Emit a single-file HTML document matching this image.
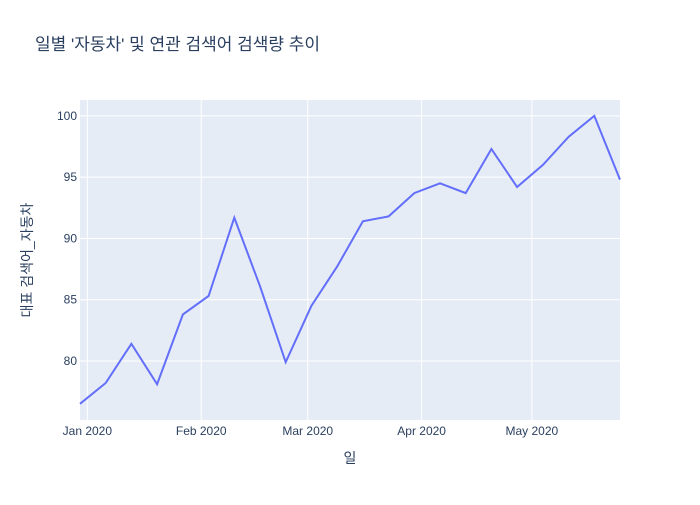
<!DOCTYPE html>
<html><head><meta charset="utf-8"><style>
body{margin:0;background:#fff;}
text{font-family:"Liberation Sans","Noto Sans CJK KR",sans-serif;fill:#2a3f5f;}
</style></head><body>
<svg width="700" height="500">
<rect x="0" y="0" width="700" height="500" fill="#fff"/>
<rect x="80" y="100" width="540" height="320" fill="#e5ecf6"/>
<g id="grid"></g>
<path id="line" fill="none" stroke="#636efa" stroke-width="2"/>
<g id="ticks"></g>
<text x="35" y="50" font-size="17">일별 '자동차' 및 연관 검색어 검색량 추이</text>
<text x="350" y="463" font-size="14" text-anchor="middle">일</text>
<text transform="translate(32,260) rotate(-90)" font-size="14" text-anchor="middle">대표 검색어_자동차</text>
</svg>
<script>
const startDate = "2019-12-30";
const values = [76.5,78.2,81.4,78.1,83.8,85.3,91.7,86.1,79.9,84.5,87.7,91.4,91.8,93.7,94.5,93.7,97.3,94.2,96.0,98.3,100,94.8];
const yTicks = [80,85,90,95,100];
const xTickDates = ["2020-01-01","2020-02-01","2020-03-01","2020-04-01","2020-05-01"];
const xTickLabels = ["Jan 2020","Feb 2020","Mar 2020","Apr 2020","May 2020"];
const ns="http://www.w3.org/2000/svg";
const day=86400000;
const t0=Date.parse(startDate), t1=t0+(values.length-1)*7*day;
const yMin=75.18,yMax=101.3;
const xs=t=>80+(t-t0)/(t1-t0)*540;
const ys=v=>420-(v-yMin)/(yMax-yMin)*320;
const grid=document.getElementById('grid'),ticks=document.getElementById('ticks');
function mk(tag,attrs,parent){const e=document.createElementNS(ns,tag);for(const k in attrs)e.setAttribute(k,attrs[k]);parent.appendChild(e);return e;}
yTicks.forEach(v=>{
  const l=mk('line',{x1:80,x2:620,y1:ys(v),y2:ys(v),stroke:'#fff','stroke-width':1},grid);
  
  
  const t=mk('text',{x:77,y:ys(v)+4,'font-size':12,'text-anchor':'end'},ticks);
  t.textContent=v;
  
  
});
xTickDates.forEach((d,i)=>{
  const x=xs(Date.parse(d));
  const l=mk('line',{x1:x,x2:x,y1:100,y2:420,stroke:'#fff','stroke-width':1},grid);
  
  
  const t=mk('text',{x:x,y:435,'font-size':12,'text-anchor':'middle'},ticks);
  t.textContent=xTickLabels[i];
  
  
});
document.getElementById('line').setAttribute('d',values.map((v,i)=>(i?'L':'M')+xs(t0+i*7*day).toFixed(1)+','+ys(v).toFixed(1)).join(''));
</script>
</body></html>
